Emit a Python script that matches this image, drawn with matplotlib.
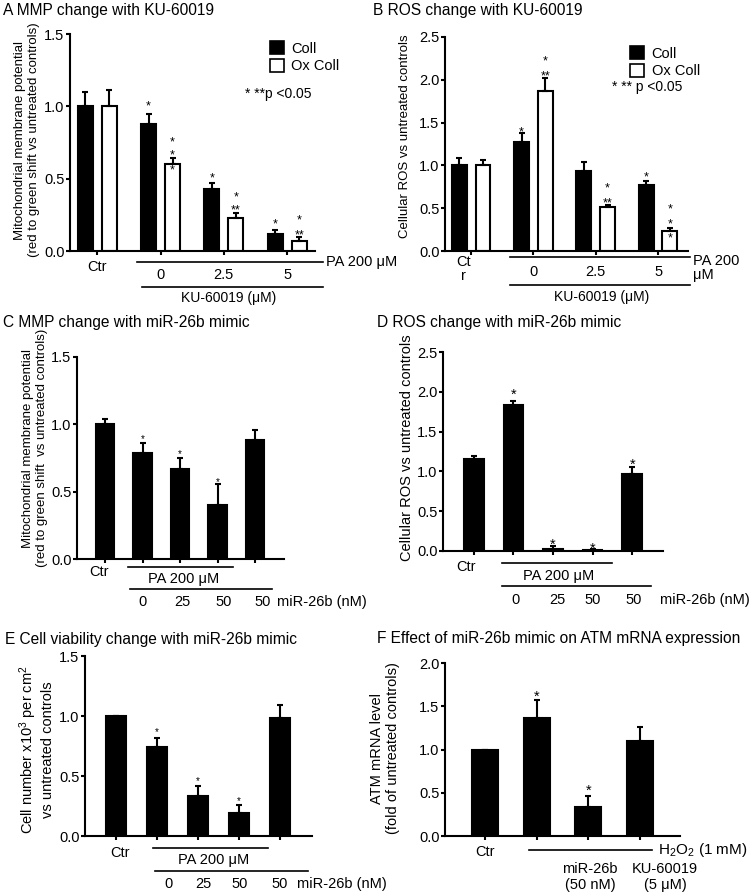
import numpy as np
import matplotlib
matplotlib.use("Agg")
import matplotlib.pyplot as plt
import matplotlib.transforms as mtransforms
from matplotlib.patches import Patch

plt.rcParams['font.family'] = ['Liberation Sans', 'DejaVu Sans']
plt.rcParams['mathtext.fontset'] = 'custom'
plt.rcParams['mathtext.rm'] = 'Liberation Sans'
plt.rcParams['mathtext.it'] = 'Liberation Sans:italic'
plt.rcParams['mathtext.bf'] = 'Liberation Sans:bold'

W, H = 750, 896

# --- datos ---
# A: MMP con KU-60019
a_groups = ["Ctr", "0", "2.5", "5"]
a_coll = [1.00, 0.88, 0.43, 0.12]
a_coll_err = [0.10, 0.07, 0.04, 0.025]
a_ox = [1.00, 0.60, 0.23, 0.07]
a_ox_err = [0.11, 0.04, 0.035, 0.025]
a_coll_sig = [(1, 1.03, "*"), (2, 0.53, "*"), (3, 0.21, "*")]
a_ox_sig = [(1, 0.78, "*"), (1, 0.69, "*"), (1, 0.585, "*"), (2, 0.40, "*"),
            (2, 0.307, "**"), (3, 0.238, "*"), (3, 0.14, "**")]

# B: ROS con KU-60019
b_groups = ["Ct\nr", "0", "2.5", "5"]
b_coll = [1.00, 1.27, 0.93, 0.77]
b_coll_err = [0.09, 0.11, 0.11, 0.05]
b_ox = [1.00, 1.87, 0.51, 0.23]
b_ox_err = [0.06, 0.15, 0.03, 0.04]
b_coll_sig = [(1, 1.44, "*"), (3, 0.91, "*")]
b_ox_sig = [(1, 2.27, "*"), (1, 2.09, "**"), (2, 0.78, "*"), (2, 0.61, "**"),
            (3, 0.535, "*"), (3, 0.36, "*"), (3, 0.20, "*")]

# C: MMP con miR-26b
c_vals = [1.00, 0.79, 0.67, 0.40, 0.88]
c_err = [0.04, 0.07, 0.08, 0.16, 0.08]
c_sig = [(1, 0.91, "*"), (2, 0.80, "*"), (3, 0.59, "*")]

# D: ROS con miR-26b
d_vals = [1.16, 1.83, 0.03, 0.01, 0.97]
d_err = [0.03, 0.06, 0.03, 0.01, 0.09]
d_sig = [(1, 2.02, "*"), (2, 0.14, "*"), (3, 0.09, "*"), (4, 1.14, "*")]

# E: viabilidad
e_vals = [1.00, 0.74, 0.33, 0.19, 0.98]
e_err = [0.0, 0.08, 0.09, 0.07, 0.11]
e_sig = [(1, 0.89, "*"), (2, 0.48, "*"), (3, 0.31, "*")]

# F: ATM mRNA
f_vals = [1.00, 1.36, 0.34, 1.10]
f_err = [0.0, 0.21, 0.12, 0.16]
f_sig = [(1, 1.66, "*"), (2, 0.57, "*")]

mir_labels = ["0", "25", "50", "50"]

fig = plt.figure(figsize=(W / 100, H / 100), dpi=100)


def make_axes(left, top, right, bottom, xlim, ymax):
    ax = fig.add_axes([left / W, 1 - bottom / H, (right - left) / W, (bottom - top) / H])
    ax.set_xlim(*xlim)
    ax.set_ylim(0, ymax)
    ax.set_yticks(np.arange(0, ymax + 0.01, 0.5))
    ax.set_yticklabels(["%.1f" % v for v in np.arange(0, ymax + 0.01, 0.5)])
    for s in ["top", "right"]:
        ax.spines[s].set_visible(False)
    for s in ["left", "bottom"]:
        ax.spines[s].set_linewidth(1.5)
    ax.tick_params(axis="y", length=3, width=1.5, pad=1, labelsize=10.5)
    ax.tick_params(axis="x", length=3, width=1.5, labelbottom=False)
    ax.set_facecolor("none")
    return ax


def frac(ax, px):
    return -px / (ax.get_position().height * H)


def linea(ax, x0, x1, px):
    tr = mtransforms.blended_transform_factory(ax.transData, ax.transAxes)
    y = frac(ax, px)
    ax.plot([x0, x1], [y, y], color="black", lw=1.2, transform=tr, clip_on=False)


def texto(ax, x, px, s, ha="center", fs=10, ls=1.2):
    tr = mtransforms.blended_transform_factory(ax.transData, ax.transAxes)
    ax.text(x, frac(ax, px), s, transform=tr, ha=ha, va="center", fontsize=fs,
            linespacing=ls, clip_on=False)


def estrellas(ax, xs, sig, fs):
    for i, y, s in sig:
        ax.annotate(s, (xs[i], y), xytext=(0, -0.58 * fs), textcoords="offset points",
                    ha="center", va="baseline", fontsize=fs, zorder=4)


def barras(ax, xs, vals, errs, width, color):
    ax.bar(xs, vals, width=width, color=color, edgecolor="black", linewidth=1.5, zorder=2)
    ax.errorbar(xs, vals, yerr=[np.zeros(len(vals)), errs], fmt="none", ecolor="black",
                elinewidth=1.5, capsize=2.5, capthick=1.5, zorder=3)


def leyenda(ax, anchor):
    ax.legend(handles=[Patch(facecolor="black", edgecolor="black", lw=1.2, label="Coll"),
                       Patch(facecolor="white", edgecolor="black", lw=1.2, label="Ox Coll")],
              loc="upper left", bbox_to_anchor=anchor, frameon=False, fontsize=10.5,
              handlelength=1.0, handleheight=1.0, handletextpad=0.5, labelspacing=0.2,
              borderpad=0)


# ---------------- A ----------------
axA = make_axes(70, 34, 315, 251, (-0.43, 3.44), 1.5)
xa = np.arange(len(a_groups))
barras(axA, xa - 0.19, a_coll, a_coll_err, 0.24, "black")
barras(axA, xa + 0.19, a_ox, a_ox_err, 0.24, "white")
axA.set_xticks(xa)
estrellas(axA, xa - 0.19, a_coll_sig, 9)
estrellas(axA, xa + 0.19, a_ox_sig, 9)
texto(axA, xa[0], 16, a_groups[0], fs=10.5)
linea(axA, 0.63, 3.57, 11)
texto(axA, 3.62, 11, "PA 200 \u03bcM", ha="left", fs=10.5)
for i in range(1, 4):
    texto(axA, xa[i], 24, a_groups[i], fs=10.5)
linea(axA, 0.71, 3.57, 36)
texto(axA, 2.08, 47, "KU-60019 (\u03bcM)")
leyenda(axA, (0.785, 1.0))
fig.text(245 / W, 1 - 94 / H, "* **p <0.05", fontsize=10, va="center")

# ---------------- B ----------------
axB = make_axes(445, 37, 688, 251, (-0.42, 3.48), 2.5)
xb = np.arange(len(b_groups))
barras(axB, xb - 0.19, b_coll, b_coll_err, 0.24, "black")
barras(axB, xb + 0.19, b_ox, b_ox_err, 0.24, "white")
axB.set_xticks(xb)
estrellas(axB, xb - 0.19, b_coll_sig, 9)
estrellas(axB, xb + 0.19, b_ox_sig, 9)
texto(axB, -0.13, 18, b_groups[0], fs=10.5, ls=1.05)
linea(axB, 0.63, 3.52, 6)
texto(axB, 3.56, 17, "PA 200\n\u03bcM", ha="left", fs=10.5, ls=1.05)
for i in range(1, 4):
    texto(axB, xb[i], 21, b_groups[i], fs=10.5)
linea(axB, 0.63, 3.52, 34)
texto(axB, 2.1, 46, "KU-60019 (\u03bcM)")
leyenda(axB, (0.73, 0.99))
fig.text(612 / W, 1 - 87 / H, "* ** p <0.05", fontsize=10, va="center")

# ---------------- C ----------------
axC = make_axes(77, 357, 284, 559, (-0.75, 4.77), 1.5)
xc = np.arange(len(c_vals))
barras(axC, xc, c_vals, c_err, 0.49, "black")
axC.set_xticks(xc)
estrellas(axC, xc, c_sig, 7)
texto(axC, -0.16, 13, "Ctr", fs=10.5)
linea(axC, 0.61, 3.41, 8)
texto(axC, 2.08, 20, "PA 200 \u03bcM", fs=10.5)
linea(axC, 0.67, 4.45, 30)
for x, s in zip([1.0, 2.05, 3.17, 4.19], mir_labels):
    texto(axC, x, 43, s, fs=10.5)
texto(axC, 4.59, 43, "miR-26b (nM)", ha="left", fs=10.5)

# ---------------- D ----------------
axD = make_axes(443, 352, 663, 551, (-0.78, 4.78), 2.5)
xd = np.arange(len(d_vals))
barras(axD, xd, d_vals, d_err, 0.5, "black")
axD.set_xticks(xd)
estrellas(axD, xd, d_sig, 10.5)
texto(axD, -0.2, 16, "Ctr", fs=10.5)
linea(axD, 0.71, 3.49, 12)
texto(axD, 2.13, 25, "PA 200 \u03bcM", fs=10.5)
linea(axD, 0.71, 4.48, 35)
for x, s in zip([1.04, 2.1, 3.01, 4.03], mir_labels):
    texto(axD, x, 49, s, fs=10.5)
texto(axD, 4.71, 49, "miR-26b (nM)", ha="left", fs=10.5)

# ---------------- E ----------------
axE = make_axes(85, 656, 312, 836, (-0.76, 4.78), 1.5)
xe = np.arange(len(e_vals))
barras(axE, xe, e_vals, e_err, 0.49, "black")
axE.set_xticks(xe)
estrellas(axE, xe, e_sig, 7)
texto(axE, 0.1, 17, "Ctr", fs=10.5)
linea(axE, 0.9, 3.7, 12)
texto(axE, 2.37, 24, "PA 200 \u03bcM", fs=10.5)
linea(axE, 0.95, 4.68, 35)
for x, s in zip([1.27, 2.12, 3.02, 3.98], mir_labels):
    texto(axE, x, 48, s, fs=10.5)
texto(axE, 4.41, 48, "miR-26b (nM)", ha="left", fs=10.5)

# ---------------- F ----------------
axF = make_axes(445, 663, 680, 836, (-0.77, 3.77), 2.0)
xf = np.arange(len(f_vals))
barras(axF, xf, f_vals, f_err, 0.5, "black")
axF.set_xticks(xf)
estrellas(axF, xf, f_sig, 10.5)
texto(axF, 0, 16, "Ctr", fs=10.5)
linea(axF, 0.85, 3.23, 14)
texto(axF, 3.35, 14, "H$_2$O$_2$ (1 mM)", ha="left", fs=11)
texto(axF, 2.03, 41, "miR-26b\n(50 nM)", fs=10.5, ls=1.1)
texto(axF, 3.48, 41, "KU-60019\n(5 \u03bcM)", fs=10.5, ls=1.1)

# titulos de los paneles
titulos = [(3, 10, "A MMP change with KU-60019"),
           (373, 10, "B ROS change with KU-60019"),
           (3, 323, "C MMP change with miR-26b mimic"),
           (377, 323, "D ROS change with miR-26b mimic"),
           (5, 639, "E Cell viability change with miR-26b mimic"),
           (377, 638, "F Effect of miR-26b mimic on ATM mRNA expression")]
for x, y, s in titulos:
    fig.text(x / W, 1 - y / H, s, fontsize=11.2, ha="left", va="center")

# etiquetas del eje y
ylabs = [(27, 140, "Mitochondrial membrane potential\n(red to green shift vs untreated controls)", 9.5),
         (405, 136, "Cellular ROS vs untreated controls", 9.5),
         (35, 448, "Mitochondrial membrane potential\n(red to green shift  vs untreated controls)", 9.5),
         (407, 448, "Cellular ROS vs untreated controls", 10.5),
         (36, 750, "Cell number x10$^3$ per cm$^2$\nvs untreated controls", 10.5),
         (385, 748, "ATM mRNA level\n(fold of untreated controls)", 10.5)]
for x, y, s, fs in ylabs:
    fig.text(x / W, 1 - y / H, s, fontsize=fs, rotation=90, ha="center", va="center",
             multialignment="center")

fig.savefig("out.png", dpi=100)
